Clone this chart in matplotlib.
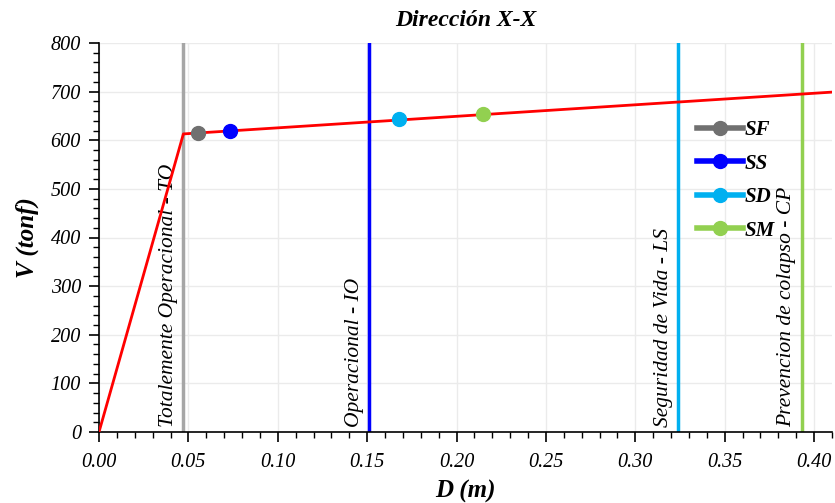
import numpy as np
import matplotlib.pyplot as plt
from matplotlib.ticker import MultipleLocator

# pushover curve
curve_d = [0.0, 0.0472, 0.41]
curve_v = [0.0, 613.0, 699.0]

# performance points
pt_names = ['SF', 'SS', 'SD', 'SM']
pt_d = [0.0553, 0.0732, 0.168, 0.215]
pt_v = [615.0, 619.0, 643.0, 654.0]
pt_colors = ['#707070', '#0000ff', '#00b0f0', '#92d050']

# performance levels
lvl_names = ['Totalemente Operacional - TO', 'Operacional - IO',
             'Seguridad de Vida - LS', 'Prevencion de colapso - CP']
lvl_d = [0.0472, 0.151, 0.324, 0.393]
lvl_colors = ['#a6a6a6', '#0000ff', '#00b0f0', '#92d050']

plt.rcParams['font.family'] = ['Liberation Serif', 'DejaVu Serif']

fig = plt.figure(figsize=(8.35, 5.03), dpi=100)
ax = fig.add_axes([99/835, 1-432/503, 733/835, 389/503])

for d, c in zip(lvl_d, lvl_colors):
    ax.axvline(d, color=c, lw=2.5, zorder=2)
for name, d in zip(lvl_names, lvl_d):
    ax.text(d - 0.0082, 10, name, rotation=90, ha='center', va='bottom',
            fontsize=15.5, style='italic', zorder=3)

ax.plot(curve_d, curve_v, color='#ff0000', lw=2, zorder=3)

for name, d, v, c in zip(pt_names, pt_d, pt_v, pt_colors):
    ax.plot([d], [v], 'o', color=c, ms=10, zorder=4)
    ax.plot([], [], '-o', color=c, lw=4, ms=10, label=name)

ax.set_xlim(0, 0.41)
ax.set_ylim(0, 800)
ax.xaxis.set_major_locator(MultipleLocator(0.05))
ax.xaxis.set_minor_locator(MultipleLocator(0.01))
ax.yaxis.set_major_locator(MultipleLocator(100))
ax.yaxis.set_minor_locator(MultipleLocator(20))
ax.xaxis.set_major_formatter(plt.FuncFormatter(lambda x, p: '%.2f' % x))
ax.grid(True, which='major', color='#ebebeb', lw=1, zorder=0)

for s in ['top', 'right']:
    ax.spines[s].set_visible(False)
ax.spines['left'].set_linewidth(1.2)
ax.spines['bottom'].set_linewidth(1.2)
ax.tick_params(which='major', length=7, width=1.2, labelsize=14.5)
ax.tick_params(axis='x', which='major', pad=8)
ax.tick_params(axis='y', which='major', pad=6)
ax.tick_params(which='minor', length=4, width=1)
for lab in ax.get_xticklabels() + ax.get_yticklabels():
    lab.set_style('italic')

ax.set_xlabel('D (m)', fontsize=18, fontweight='bold', style='italic', labelpad=6)
ax.set_ylabel('V (tonf)', fontsize=18, fontweight='bold', style='italic', labelpad=8)
ax.set_title('Dirección X-X', fontsize=17, fontweight='bold', style='italic', pad=12)

leg = ax.legend(loc='upper left', bbox_to_anchor=(0.79, 0.85), frameon=False,
                prop={'weight': 'bold', 'style': 'italic', 'size': 15},
                handlelength=2.2, handletextpad=0.1, labelspacing=0.65)

fig.savefig('out.png', dpi=100)
